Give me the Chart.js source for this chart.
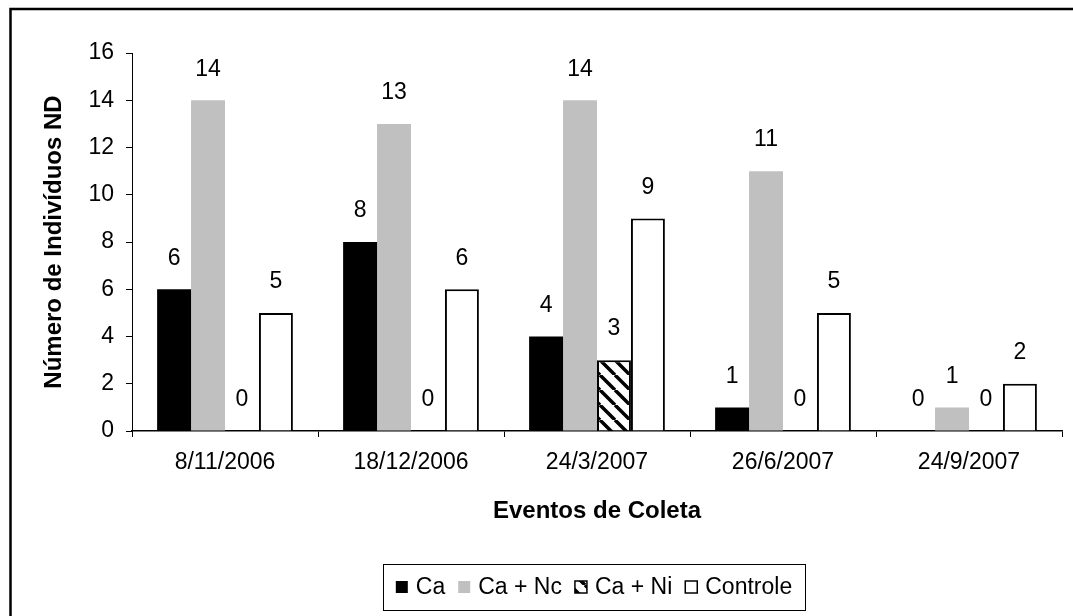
<!DOCTYPE html>
<html>
<head>
<meta charset="utf-8">
<script src="https://cdn.jsdelivr.net/npm/chart.js@4.4.1/dist/chart.umd.min.js"></script>
<style>
  html, body { margin: 0; padding: 0; background: #fff; }
  #wrap { width: 1073px; height: 616px; }
</style>
</head>
<body>
<div id="wrap"><canvas id="myChart" width="1073" height="616"></canvas></div>
<script>
'use strict';

const categories = ['8/11/2006', '18/12/2006', '24/3/2007', '26/6/2007', '24/9/2007'];
const seriesNames = ['Ca', 'Ca + Nc', 'Ca + Ni', 'Controle'];
const caValues = [6, 8, 4, 1, 0];
const caNcValues = [14, 13, 14, 11, 1];
const caNiValues = [0, 0, 3, 0, 0];
const controleValues = [5, 6, 9, 5, 2];
const yMin = 0;
const yMax = 16;
const yStep = 2;

const FONT = '"Liberation Sans", Arial, sans-serif';

// diagonal "\" hatch for the Ca + Ni bars
function makeHatch() {
    const size = 15;
    const c = document.createElement('canvas');
    c.width = size;
    c.height = size;
    const g = c.getContext('2d');
    g.fillStyle = '#fff';
    g.fillRect(0, 0, size, size);
    g.strokeStyle = '#000';
    g.lineWidth = 3.5;
    g.beginPath();
    for (let k = -1; k <= 1; k++) {
        g.moveTo(k * size, 0);
        g.lineTo(k * size + size, size);
    }
    g.stroke();
    return g.createPattern(c, 'repeat');
}

const hatch = makeHatch();

// outer frame of the chart (only top and left edges fall inside the picture)
const outerFrame = {
    id: 'outerFrame',
    afterDraw(chart) {
        const ctx = chart.ctx;
        ctx.save();
        ctx.strokeStyle = '#000';
        ctx.lineWidth = 2.5;
        ctx.strokeRect(10.5, 9, 1200, 800);
        ctx.restore();
    }
};

// numbers above every bar
const valueLabels = {
    id: 'valueLabels',
    afterDatasetsDraw(chart) {
        const ctx = chart.ctx;
        ctx.save();
        ctx.font = '23px ' + FONT;
        ctx.fillStyle = '#000';
        ctx.textAlign = 'center';
        ctx.textBaseline = 'middle';
        chart.data.datasets.forEach((ds, i) => {
            chart.getDatasetMeta(i).data.forEach((bar, j) => {
                ctx.fillText(String(ds.data[j]), bar.x, bar.y - 31);
            });
        });
        ctx.restore();
    }
};

// boxed legend under the axis title
const boxLegend = {
    id: 'boxLegend',
    afterDraw(chart) {
        const ctx = chart.ctx;
        const box = { left: 383, top: 564, width: 422, height: 46 };
        const sq = 12;
        const gapText = 8;
        const gapItem = 13;
        ctx.save();
        ctx.strokeStyle = '#000';
        ctx.lineWidth = 1;
        ctx.strokeRect(box.left + 0.5, box.top + 0.5, box.width, box.height);

        ctx.font = '23px ' + FONT;
        const widths = chart.data.datasets.map(ds => ctx.measureText(ds.label).width);
        let total = 0;
        widths.forEach(w => { total += sq + gapText + w; });
        total += gapItem * (widths.length - 1);
        let x = box.left + (box.width - total) / 2;
        const cy = box.top + box.height / 2;

        chart.data.datasets.forEach((ds, i) => {
            ctx.fillStyle = ds.backgroundColor;
            ctx.fillRect(x, cy - sq / 2, sq, sq);
            if (ds.borderWidth) {
                ctx.strokeStyle = '#000';
                ctx.lineWidth = 1.5;
                ctx.strokeRect(x, cy - sq / 2, sq, sq);
            }
            x += sq + gapText;
            ctx.fillStyle = '#000';
            ctx.textAlign = 'left';
            ctx.textBaseline = 'middle';
            ctx.fillText(ds.label, x, cy + 1);
            x += widths[i] + gapItem;
        });
        ctx.restore();
    }
};

const canvasEl = document.getElementById('myChart');

new Chart(canvasEl, {
    type: 'bar',
    data: {
        labels: categories,
        datasets: [{
            label: seriesNames[0],
            data: caValues,
            backgroundColor: '#000000',
            borderWidth: 0
        }, {
            label: seriesNames[1],
            data: caNcValues,
            backgroundColor: '#c0c0c0',
            borderWidth: 0
        }, {
            label: seriesNames[2],
            data: caNiValues,
            backgroundColor: hatch,
            borderColor: '#000',
            borderWidth: 2
        }, {
            label: seriesNames[3],
            data: controleValues,
            backgroundColor: '#ffffff',
            borderColor: '#000',
            borderWidth: 2
        }]
    },
    options: {
        responsive: false,
        animation: false,
        devicePixelRatio: 1,
        layout: {
            padding: { left: 0, top: 53, right: 11, bottom: 0 }
        },
        datasets: {
            bar: {
                categoryPercentage: 0.73,
                barPercentage: 1
            }
        },
        plugins: {
            legend: { display: false },
            tooltip: { enabled: false }
        },
        scales: {
            x: {
                grid: {
                    drawOnChartArea: false,
                    drawTicks: true,
                    tickLength: 6,
                    color: '#000'
                },
                border: { display: true, color: '#000', width: 1.5 },
                ticks: {
                    color: '#000',
                    padding: 12,
                    font: { family: FONT, size: 23 }
                },
                title: {
                    display: true,
                    text: 'Eventos de Coleta',
                    color: '#000',
                    font: { family: FONT, size: 24, weight: 'bold' },
                    padding: { top: 0, bottom: 90 }
                },
                afterFit(scale) {
                    scale.height = 185;
                }
            },
            y: {
                min: yMin,
                max: yMax,
                grid: {
                    drawOnChartArea: false,
                    drawTicks: true,
                    tickLength: 6,
                    color: '#000'
                },
                border: { display: true, color: '#000', width: 1 },
                ticks: {
                    stepSize: yStep,
                    color: '#000',
                    padding: 12,
                    font: { family: FONT, size: 23 }
                },
                title: {
                    display: true,
                    text: 'Número de Indivíduos ND',
                    color: '#000',
                    font: { family: FONT, size: 24, weight: 'bold' },
                    padding: { top: 40, bottom: 0 }
                },
                afterFit(scale) {
                    scale.width = 132;
                }
            }
        }
    },
    plugins: [valueLabels, boxLegend, outerFrame]
});
</script>
</body>
</html>
